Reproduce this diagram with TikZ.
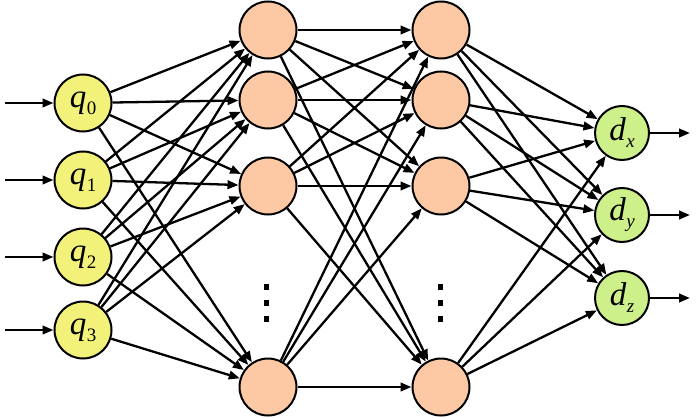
\documentclass[tikz,border=0pt]{standalone}
\usepackage{fontspec}
\setmainfont{Liberation Serif}
\usetikzlibrary{arrows.meta}
\definecolor{inyellow}{RGB}{242,242,122}
\definecolor{hidpeach}{RGB}{252,201,164}
\definecolor{outgreen}{RGB}{206,240,138}
\newcommand{\nlabel}[2]{\textit{#1}\kern0.5pt\raisebox{-7pt}{\fontsize{19}{19}\selectfont #2}}
\begin{document}
\begin{tikzpicture}[x=1pt,y=-1pt,
    neuron/.style={circle,draw,line width=2pt,minimum size=57pt,inner sep=0pt,font=\fontsize{33}{33}\selectfont},
    link/.style={line width=2.3pt,-{Triangle[length=11pt,width=8.5pt]}}]
    \useasboundingbox (0,0) rectangle (700,417);
    % input layer
    \foreach \i/\y in {0/103,1/180,2/257,3/330} {
        \node[neuron,fill=inyellow] (q\i) at (83,\y) {\nlabel{q}{\i}};
        \coordinate (in\i) at (5,\y);
        \draw[link] (in\i) -- (q\i);
    }
    % hidden layers
    \foreach \j/\y in {1/30,2/100,3/186,4/387} {
        \node[neuron,fill=hidpeach] (a\j) at (268,\y) {};
        \node[neuron,fill=hidpeach] (b\j) at (441,\y) {};
    }
    % output layer
    \foreach \k/\v/\y in {1/x/133,2/y/215,3/z/298} {
        \node[neuron,fill=outgreen,minimum size=54pt] (d\k) at (622,\y) {\nlabel{d}{\textit{\v}}};
        \coordinate (out\k) at (690,\y);
        \draw[link] (d\k) -- (out\k);
    }
    % connections
    \foreach \j in {1,...,4} {
        \foreach \i in {0,...,3} {
            \draw[link] (q\i) -- (a\j);
        }
        \foreach \m in {1,...,4} {
            \draw[link] (a\j) -- (b\m);
        }
        \foreach \k in {1,...,3} {
            \draw[link] (b\j) -- (d\k);
        }
    }
    % vertical dots
    \foreach \x in {266,440} {
        \foreach \y in {287,303,319} {
            \fill (\x-2.5,\y-3) rectangle (\x+2.5,\y+3);
        }
    }
\end{tikzpicture}
\end{document}
